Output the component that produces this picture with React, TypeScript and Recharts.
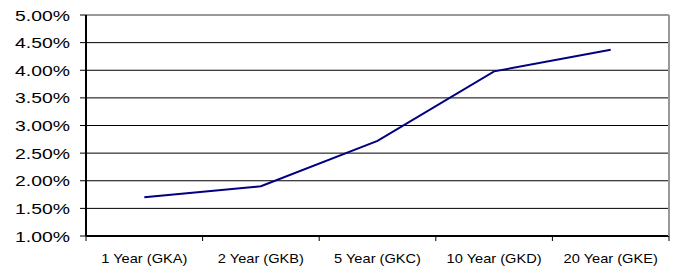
import React from "react";
import { LineChart, Line, XAxis, YAxis, CartesianGrid, ReferenceLine } from "recharts";

const categories = ["1 Year (GKA)", "2 Year (GKB)", "5 Year (GKC)", "10 Year (GKD)", "20 Year (GKE)"];
const yields = [1.70, 1.90, 2.72, 3.98, 4.37];
const yTicks = [1.0, 1.5, 2.0, 2.5, 3.0, 3.5, 4.0, 4.5, 5.0];
const xTicks = [-0.5, 0, 0.5, 1, 1.5, 2, 2.5, 3, 3.5, 4, 4.5];

const data = categories.map((c, i) => ({ idx: i, name: c, value: yields[i] }));

const FONT = '"Liberation Sans", Arial, sans-serif';

const YTick = (props: any) => {
  const { x, y, payload } = props;
  return (
    <text
      transform={`translate(${x},${y}) scale(1.25,1)`}
      x={0}
      y={0}
      dy={5.5}
      textAnchor="end"
      fontFamily={FONT}
      fontSize={15.5}
      fill="#000"
    >
      {Number(payload.value).toFixed(2) + "%"}
    </text>
  );
};

const XTick = (props: any) => {
  const { x, y, payload } = props;
  const v = payload.value;
  if (!Number.isInteger(v)) {
    return <line x1={x} x2={x} y1={y} y2={y + 5} stroke="#000" strokeWidth={1} />;
  }
  return (
    <text
      transform={`translate(${x},${y}) scale(1.17,1)`}
      x={0}
      y={0}
      dy={27}
      textAnchor="middle"
      fontFamily={FONT}
      fontSize={12.5}
      fill="#000"
    >
      {categories[v]}
    </text>
  );
};

export default function App() {
  return (
    <div style={{ position: "absolute", left: 0, top: 0, background: "#fff" }}>
      <LineChart width={678} height={270} data={data} margin={{ top: 15, right: 0, left: 0, bottom: 0 }}>
        <CartesianGrid horizontal vertical={false} stroke="#000" strokeWidth={1} xAxisId="lab" yAxisId="left" />
        <XAxis
          xAxisId="lab"
          dataKey="idx"
          type="number"
          domain={[-0.5, 4.5]}
          ticks={xTicks}
          tick={<XTick />}
          tickLine={false}
          tickSize={0}
          tickMargin={0}
          height={34}
          axisLine={{ stroke: "#000", strokeWidth: 2 }}
          interval={0}
        />
        <YAxis
          yAxisId="left"
          orientation="left"
          width={86}
          domain={[1, 5]}
          ticks={yTicks}
          tick={<YTick />}
          tickSize={6}
          tickMargin={10}
          axisLine={{ stroke: "#000", strokeWidth: 2 }}
          tickLine={{ stroke: "#000", strokeWidth: 1 }}
          interval={0}
        />
        <YAxis
          yAxisId="right"
          orientation="right"
          width={9}
          domain={[1, 5]}
          tick={false}
          tickLine={false}
          axisLine={{ stroke: "#999", strokeWidth: 2 }}
        />
        <ReferenceLine y={5} yAxisId="left" xAxisId="lab" stroke="#999" strokeWidth={2} />
        <Line
          xAxisId="lab"
          yAxisId="left"
          dataKey="value"
          stroke="#000080"
          strokeWidth={2}
          dot={false}
          activeDot={false}
          isAnimationActive={false}
        />
      </LineChart>
    </div>
  );
}
